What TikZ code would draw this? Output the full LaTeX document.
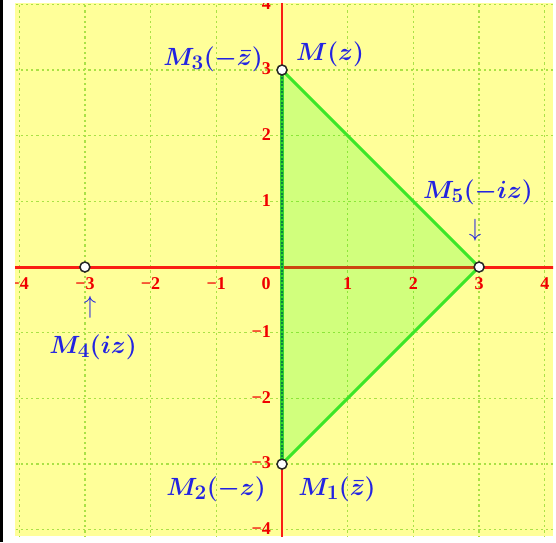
\documentclass[tikz,border=0pt]{standalone}
\usepackage{amsmath}
\usepackage{fontspec}
\newfontfamily\tickfont{Liberation Serif}[Scale=1]
\definecolor{bgyellow}{RGB}{255,255,153}
\definecolor{gridgreen}{RGB}{170,225,70}
\definecolor{segg}{RGB}{60,230,40}
\definecolor{darkg}{RGB}{10,130,70}
\definecolor{axred}{RGB}{250,30,20}
\definecolor{lblue}{RGB}{35,35,225}
\definecolor{tred}{RGB}{240,0,0}
\tikzset{
  gridline/.style={gridgreen, line width=1.3pt, dash pattern=on 2.2pt off 3pt},
  axisline/.style={axred, line width=3pt},
  segline/.style={segg, line width=3pt},
  tick/.style={tred, font=\tickfont\bfseries\fontsize{18}{18}\selectfont, inner sep=0pt},
  lbl/.style={lblue, font=\fontsize{30}{33}\selectfont\boldmath, inner sep=0pt},
  arr/.style={lblue, font=\fontsize{28}{30}\selectfont, inner sep=0pt},
  ptmark/.style={circle, draw=black!85, fill=white, line width=1.5pt, minimum size=10pt, inner sep=0pt}
}
\begin{document}
\begin{tikzpicture}[x=1pt,y=-1pt]
\useasboundingbox (0,0) rectangle (556,542);
\fill[white] (0,0) rectangle (556,542);
\fill[black] (0,0) rectangle (3,542);
\coordinate (O) at (282,267);
\coordinate (pM) at (282,70);
\coordinate (pM1) at (282,464.1);
\coordinate (pM4) at (84.9,267);
\coordinate (pM5) at (479.1,267);
\begin{scope}
\clip (15,3) rectangle (553,536);
\fill[bgyellow] (15,3) rectangle (553,536);
\foreach \i in {-4,...,4} {
  \draw[gridline] ({282+65.7*\i},0) -- ({282+65.7*\i},542);
  \draw[gridline] (0,{267+65.7*\i}) -- (556,{267+65.7*\i});
}
\draw[axisline] (0,267) -- (556,267);
\draw[axisline, line width=2.5pt] (282,0) -- (282,542);
\fill[green, opacity=0.18] (pM) -- (pM5) -- (pM1) -- cycle;
% tick labels
\foreach \i/\t in {-4/−4,-3/−3,-2/−2,-1/−1,1/1,2/2,3/3,4/4} {
  \node[tick] (tx\i) at ({282+65.7*\i},284) {\t};
}
\node[tick] (tx0) at (266,284) {0};
\foreach \i/\t in {4/4,3/3,2/2,1/1,-1/−1,-2/−2,-3/−3,-4/−4} {
  \node[tick, anchor=east] (ty\i) at (271,{267-65.7*\i-1}) {\t};
}
\draw[segline] (pM) -- (pM5) -- (pM1);
\draw[segline, line width=3.2pt, color=segg!80!darkg] (pM1) -- (pM);
\draw[darkg, line width=2.2pt, dash pattern=on 2pt off 1.5pt] (pM1) -- (pM);
\end{scope}
\node[ptmark] (M) at (pM) {};
\node[ptmark] (M1) at (pM1) {};
\node[ptmark] (M4) at (pM4) {};
\node[ptmark] (M5) at (pM5) {};
\node[lbl] (lM) at (330,54) {$M(z)$};
\node[lbl] (lM3) at (213,59) {$M_3(-\bar{z})$};
\node[lbl] (lM5) at (478,192) {$M_5(-iz)$};
\node[lbl] (lM4) at (93,347) {$M_4(iz)$};
\node[lbl] (lM2) at (216,489) {$M_2(-z)$};
\node[lbl] (lM1) at (337,489) {$M_1(\bar{z})$};
\node[arr] (a5) at (475,230) {$\downarrow$};
\node[arr] (a4) at (90,307) {$\uparrow$};
\end{tikzpicture}
\end{document}
